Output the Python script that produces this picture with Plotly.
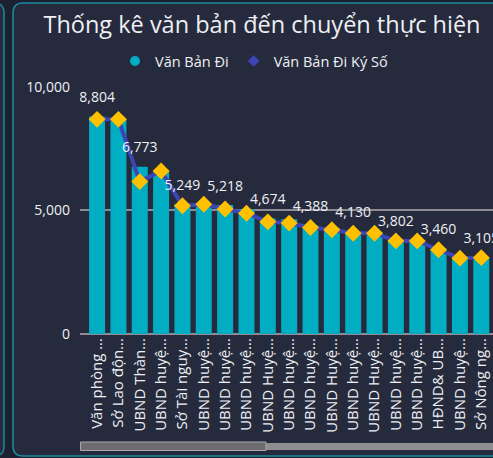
import plotly.graph_objects as go

categories = ["Văn phòng ...", "Sở Lao độn...", "UBND Thàn...", "UBND huyệ...", "Sở Tài nguy...",
              "UBND huyệ...", "UBND huyệ...", "UBND huyệ...", "UBND Huyệ...", "UBND huyệ...",
              "UBND huyệ...", "UBND Huyệ...", "UBND huyệ...", "UBND Huyệ...", "UBND huyệ...",
              "UBND huyệ...", "HĐND& UB...", "UBND huyệ...", "Sở Nông ng..."]
van_ban_di = [8804, 8700, 6773, 6640, 5249, 5230, 5218, 5060, 4674, 4650,
              4388, 4290, 4130, 4110, 3802, 3790, 3460, 3130, 3105]
van_ban_di_ky_so = [8690, 8690, 6170, 6600, 5190, 5250, 5060, 4890, 4540, 4490,
                    4310, 4220, 4080, 4080, 3770, 3770, 3410, 3070, 3090]
y_ticks = [0, 5000, 10000]

W, H = 493, 458
L, R, T, B = 80, 0, 86, 124
PW, PH = W - L - R, H - T - B
PB = H - B

def px(x):
    return (x - L) / PW

def py(y):
    return (PB - y) / PH

def rrect(x0, y0, x1, y1, r):
    rx, ry = r / PW, r / PH
    X0, X1, Y0, Y1 = px(x0), px(x1), py(y0), py(y1)
    return (f"M {X0+rx} {Y0} L {X1-rx} {Y0} Q {X1} {Y0} {X1} {Y0-ry} "
            f"L {X1} {Y1+ry} Q {X1} {Y1} {X1-rx} {Y1} L {X0+rx} {Y1} "
            f"Q {X0} {Y1} {X0} {Y1+ry} L {X0} {Y0-ry} Q {X0} {Y0} {X0+rx} {Y0} Z")

BAR = "#00adc2"
LINE = "#3c45b5"
GOLD = "#ffc000"
TXT = "#eef0f4"
FONT = "Open Sans"

x_idx = list(range(len(categories)))
labels = [f"{v:,}" if i % 2 == 0 else "" for i, v in enumerate(van_ban_di)]

fig = go.Figure()
fig.add_trace(go.Bar(
    x=x_idx, y=van_ban_di, name="Văn Bản Đi", marker=dict(color=BAR, line=dict(width=0)),
    showlegend=False, hoverinfo="skip",
))
fig.add_trace(go.Scatter(
    x=x_idx, y=van_ban_di_ky_so, name="Văn Bản Đi Ký Số", mode="lines+markers",
    line=dict(color=LINE, width=4),
    marker=dict(symbol="diamond", size=13, color=GOLD, line=dict(width=0)),
    showlegend=False,
))
fig.add_trace(go.Scatter(
    x=x_idx, y=van_ban_di, mode="markers+text", text=labels, textposition="top center",
    marker=dict(size=16, opacity=0), cliponaxis=True,
    textfont=dict(color=TXT, size=14, family=FONT), showlegend=False, hoverinfo="skip",
))
fig.add_trace(go.Scatter(x=[None], y=[None], mode="markers", name="Văn Bản Đi",
                         marker=dict(symbol="circle", size=10, color=BAR)))
fig.add_trace(go.Scatter(x=[None], y=[None], mode="markers", name="Văn Bản Đi Ký Số",
                         marker=dict(symbol="diamond", size=9, color=LINE)))

shapes = [
    dict(type="path", xref="paper", yref="paper", path=rrect(-20, 3, 4, 456, 10),
         fillcolor="#262a3d", line=dict(color="#1b8a9c", width=1.5), layer="below"),
    dict(type="path", xref="paper", yref="paper", path=rrect(13, 3, 520, 456, 10),
         fillcolor="#262a3d", line=dict(color="#1b8a9c", width=1.5), layer="below"),
    dict(type="rect", xref="paper", yref="paper", x0=px(266), x1=px(493), y0=py(450), y1=py(443),
         fillcolor="#8e8e92", line=dict(width=0), layer="above"),
    dict(type="rect", xref="paper", yref="paper", x0=px(80.5), x1=px(266), y0=py(450.5), y1=py(442),
         fillcolor="#6d6d70", line=dict(color="#a9a9ad", width=1), layer="above"),
]

fig.update_layout(
    width=W, height=H, margin=dict(l=L, r=R, t=T, b=B, autoexpand=False),
    paper_bgcolor="#1d2030", plot_bgcolor="rgba(0,0,0,0)",
    font=dict(family=FONT, color=TXT, size=14),
    title=dict(text="Thống kê văn bản đến chuyển thực hiện", xref="container", x=262 / W,
               xanchor="center", yref="container", y=1 - 25 / H, yanchor="middle",
               font=dict(size=23.5, color=TXT, family=FONT)),
    legend=dict(orientation="h", x=px(254), xanchor="center", y=py(61), yanchor="middle",
                font=dict(size=14.5, color=TXT), itemwidth=30, bgcolor="rgba(0,0,0,0)",
                itemclick=False, tracegroupgap=0),
    bargap=0.25,
    shapes=shapes,
    xaxis=dict(range=[-0.8, 18.55], tickmode="array", tickvals=x_idx, ticktext=categories,
               tickangle=-90, showgrid=False, zeroline=False, showline=False, ticks="",
               tickfont=dict(size=15, color=TXT), automargin=False, fixedrange=True),
    yaxis=dict(range=[0, 10040], tickmode="array", tickvals=y_ticks,
               ticktext=[f"{v:,}" for v in y_ticks], showgrid=True, gridcolor="#8d8d93",
               gridwidth=1.5, zeroline=True, zerolinecolor="#8d8d93", zerolinewidth=1.5,
               showline=False, ticks="", ticklabelstandoff=9,
               tickfont=dict(size=14, color=TXT), automargin=False, fixedrange=True),
)

fig.write_html("out.html", config={"displayModeBar": False},
               post_script="document.body.style.margin='0';document.body.style.overflow='hidden';")
